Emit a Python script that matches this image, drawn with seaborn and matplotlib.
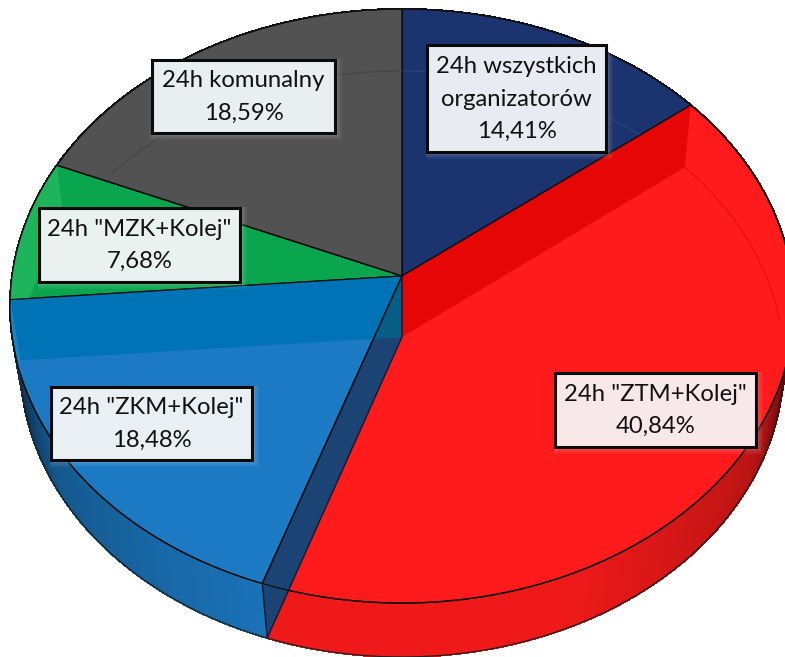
import numpy as np
import matplotlib
matplotlib.use("Agg")
import matplotlib.pyplot as plt
import seaborn as sns
from matplotlib.transforms import Transform
from matplotlib.patches import Rectangle, Polygon

# ---- data ----
categories = ['24h wszystkich\norganizatorów', '24h "ZTM+Kolej"', '24h "ZKM+Kolej"',
              '24h "MZK+Kolej"', '24h komunalny']
shares = [14.41, 40.84, 18.48, 7.68, 18.59]
face_colors = ['#1B3470', '#FF1B1B', '#1C7AC4', '#0AA64E', '#525252']
box_colors = ['#E8EBF2', '#F9E8E9', '#E9EFF2', '#E9F2EF', '#E9EEF0']
label_boxes = [(427, 45, 179, 107), (555, 373, 201, 74), (51, 387, 201, 73),
               (39, 208, 201, 74), (152, 60, 183, 73)]

sns.set_theme(style="white")
plt.rcParams['font.family'] = ['Lato', 'DejaVu Sans']
palette = sns.color_palette(face_colors)

W, H = 785, 657
CX = 402.0
TOP = dict(cy=276.0, a=390.0, b=294.0, k=0.101)
LOW = dict(cy=337.0, a=380.0, b=290.5, k=0.092)


def project(u, v, cy, a, b, k):
    w = 1 + k * v
    return CX + a * u / w, cy - b * v / w


class Perspective(Transform):
    input_dims = output_dims = 2
    is_separable = False
    has_inverse = False

    def transform_non_affine(self, values):
        values = np.asarray(values, dtype=float)
        x, y = project(values[:, 0], values[:, 1], **TOP)
        return np.column_stack([x, y])


def rim(theta_deg, level):
    t = np.radians(np.atleast_1d(theta_deg))
    x, y = project(np.cos(t), np.sin(t), **level)
    return np.column_stack([x, y])


def shade(color, f):
    return tuple(np.clip(np.array(color) * f, 0, 1))


fig = plt.figure(figsize=(W / 100, H / 100), dpi=100, facecolor='white')
ax = fig.add_axes([0, 0, 1, 1])

wedges, _ = ax.pie(shares, startangle=90, counterclock=False, colors=palette,
                   wedgeprops=dict(edgecolor='#101010', linewidth=1.0, zorder=3))
ax.set_aspect('auto')
ax.set_xlim(0, W)
ax.set_ylim(H, 0)
ax.axis('off')
persp = Perspective()
for w in wedges:
    w.set_transform(persp + ax.transData)

# outer side wall, shaded strip by strip
for w, col in zip(wedges, palette):
    grid = np.arange(w.theta1, w.theta2, 1.0)
    grid = np.append(grid, w.theta2)
    for t0, t1 in zip(grid[:-1], grid[1:]):
        clock = (90 - 0.5 * (t0 + t1)) % 360
        off = abs(clock - 178)
        f = np.interp(off, [0, 20, 60, 75, 90], [0.94, 0.94, 0.72, 0.4, 0.3])
        seg = np.array([t0, t1])
        pts = np.vstack([rim(seg, TOP), rim(seg[::-1], LOW)])
        ax.add_patch(Polygon(pts, closed=True, facecolor=shade(col, f),
                             edgecolor=shade(col, f), linewidth=0.8,
                             antialiased=False, zorder=1))

# front part of the lower rim
front = np.linspace(-10, -175, 200)
pts = rim(front, LOW)
ax.plot(pts[:, 0], pts[:, 1], color='#222222', lw=0.9, zorder=2)

# inside of the back wall, seen through the top
green = wedges[3]
t = np.linspace(green.theta1, green.theta2, 30)
ax.add_patch(Polygon(np.vstack([rim(t, TOP), rim(t[::-1], LOW)]), closed=True,
                     facecolor='#1DB45C', edgecolor='none', zorder=4))

# faint lower rim at the back
faint = [(wedges[0].theta1, wedges[0].theta2, '#2B4480'),
         (wedges[0].theta1 - 35, wedges[0].theta1, '#E80F0F'),
         (wedges[4].theta1, wedges[4].theta2 - 13, '#464646')]
for t0, t1, col in faint:
    p = rim(np.linspace(t0, t1, 60), LOW)
    ax.plot(p[:, 0], p[:, 1], color=col, lw=0.9, zorder=4)

# interior radial walls
c_top = (CX, TOP['cy'])
c_low = (CX, LOW['cy'])
b01 = wedges[0].theta1  # navy / red boundary
b12 = wedges[1].theta1  # red / blue boundary
b23 = wedges[2].theta1  # blue / green boundary

red_wall = [c_top, rim(b01, TOP)[0], rim(b01, LOW)[0], c_low]
ax.add_patch(Polygon(red_wall, closed=True, facecolor='#E60606', edgecolor='none', zorder=4))

blue_wall = [c_top, rim(b12, TOP)[0], rim(b12, LOW)[0], c_low]
ax.add_patch(Polygon(blue_wall, closed=True, facecolor='#1B4474', edgecolor='#0A1A30',
                     linewidth=1.0, zorder=5))

back_wall = [c_top, rim(b23, TOP)[0], rim(b23, LOW)[0], c_low]
back_patch = Polygon(back_wall, closed=True, facecolor='#0072B6', edgecolor='none', zorder=6)
ax.add_patch(back_patch)
overlap = Polygon(blue_wall, closed=True, facecolor='#055E85', edgecolor='#0A1A30',
                  linewidth=1.0, zorder=6.2)
ax.add_patch(overlap)
overlap.set_clip_path(back_patch)

t = np.linspace(b23, b23 + 4, 8)
ax.add_patch(Polygon(np.vstack([rim(t, TOP), rim(t[::-1], LOW)]), closed=True,
                     facecolor='#1F80C8', edgecolor='none', zorder=6.3))

# re-stroke the radial edges and rims on top
for w in wedges:
    p = rim(w.theta1, TOP)[0]
    ax.plot([CX, p[0]], [TOP['cy'], p[1]], color='#101010', lw=0.9, zorder=7)
t = np.linspace(0, 360, 400)
p = rim(t, TOP)
ax.plot(p[:, 0], p[:, 1], color='#101010', lw=0.9, zorder=7)

# labels
for name, val, (x, y, w, h), fc in zip(categories, shares, label_boxes, box_colors):
    for g, al in [(7, 0.05), (5, 0.07), (3, 0.09), (1.5, 0.1)]:
        ax.add_patch(Rectangle((x - 1, y - 1), w + g + 1, h + g + 1, facecolor='white',
                               edgecolor='none', alpha=al, zorder=8))
    ax.add_patch(Rectangle((x, y), w, h, facecolor=fc, edgecolor='#0A0A0A',
                           linewidth=2.2, zorder=9))
    txt = f"{name}\n{val:.2f}%".replace('.', ',')
    ax.text(x + w / 2, y + h / 2 + 0.5, txt, ha='center', va='center', fontsize=17.2,
            color='#111111', linespacing=1.68, zorder=10)

fig.savefig('out.png', dpi=100, facecolor='white')
